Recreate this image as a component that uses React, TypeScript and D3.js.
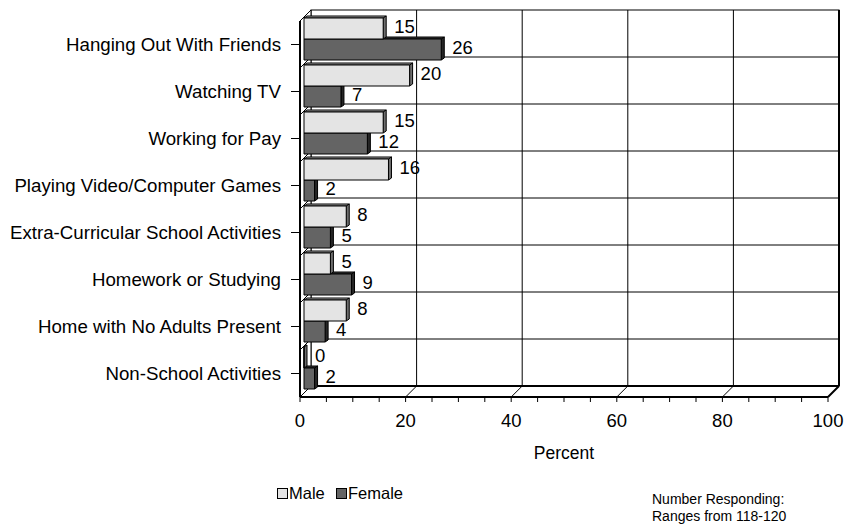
import React from "react";
import * as d3 from "d3";

const categories = [
  "Hanging Out With Friends",
  "Watching TV",
  "Working for Pay",
  "Playing Video/Computer Games",
  "Extra-Curricular School Activities",
  "Homework or Studying",
  "Home with No Adults Present",
  "Non-School Activities",
];
const maleValues = [15, 20, 15, 16, 8, 5, 8, 0];
const femaleValues = [26, 7, 12, 2, 5, 9, 4, 2];
const xTicks = [0, 20, 40, 60, 80, 100];
const seriesNames = ["Male", "Female"];
const axisTitle = "Percent";
const noteLines = ["Number Responding:", "Ranges from 118-120"];

const W = 846;
const H = 525;
const FONT = "'Liberation Sans', Arial, Helvetica, sans-serif";

// front plane of the 3-D box and its depth offset
const left = 300;
const right = 828;
const top = 21;
const bottom = 397;
const DEPTH = 11;

// bar placement inside the box
const BAR_Z = 4;
const BAR_DX = 3;
const BAR_DY = 2;

const MALE_FILL = "#e4e4e4";
const MALE_TOP = "#a8a8a8";
const MALE_SIDE = "#6e6e6e";
const FEMALE_FILL = "#646464";
const FEMALE_TOP = "#3c3c3c";
const FEMALE_SIDE = "#262626";

function Bar3D({ x, y, w, h, fill, topFill, sideFill }: any) {
  const front = `M${x},${y}h${w}v${h}h${-w}Z`;
  const topFace = `M${x},${y}L${x + BAR_DX},${y - BAR_DY}L${x + w + BAR_DX},${y - BAR_DY}L${x + w},${y}Z`;
  const side = `M${x + w},${y}L${x + w + BAR_DX},${y - BAR_DY}L${x + w + BAR_DX},${y + h - BAR_DY}L${x + w},${y + h}Z`;
  return (
    <g stroke="#000" strokeWidth={1} strokeLinejoin="round">
      <path d={topFace} fill={topFill} />
      <path d={side} fill={sideFill} />
      <path d={front} fill={fill} />
    </g>
  );
}

export default function App() {
  const x = d3.scaleLinear().domain([0, 100]).range([left, right]);
  const y = d3.scaleBand<string>().domain(categories).range([top, bottom]).padding(0);
  const bw = y.bandwidth();
  const barH = 21;

  const minorTicks = d3.range(0, 101, 5);
  const boundaries = d3.range(0, categories.length + 1).map((i) => top + i * bw);

  const rows = categories.map((c, i) => ({ c, m: maleValues[i], f: femaleValues[i] }));

  return (
    <svg
      width={W}
      height={H}
      style={{ position: "absolute", left: 0, top: 0, background: "#fff" }}
      fontFamily={FONT}
    >
      {/* back wall */}
      <rect x={left + DEPTH} y={top - DEPTH} width={right - left} height={bottom - top} fill="#fff" stroke="#000" strokeWidth={1} />
      {xTicks.slice(1, -1).map((t) => (
        <line key={`vg${t}`} x1={x(t) + DEPTH} x2={x(t) + DEPTH} y1={top - DEPTH} y2={bottom - DEPTH} stroke="#000" strokeWidth={1} />
      ))}
      {boundaries.slice(1, -1).map((b, i) => (
        <line key={`hg${i}`} x1={left + DEPTH} x2={right + DEPTH} y1={b - DEPTH} y2={b - DEPTH} stroke="#000" strokeWidth={1} />
      ))}

      {/* left wall */}
      <path
        d={`M${left},${top}L${left + DEPTH},${top - DEPTH}L${left + DEPTH},${bottom - DEPTH}L${left},${bottom}Z`}
        fill="#fff"
        stroke="#000"
        strokeWidth={1}
      />
      {boundaries.map((b, i) => (
        <line key={`ld${i}`} x1={left} y1={b} x2={left + DEPTH} y2={b - DEPTH} stroke="#000" strokeWidth={1} />
      ))}

      {/* floor */}
      <path
        d={`M${left},${bottom}L${left + DEPTH},${bottom - DEPTH}L${right + DEPTH},${bottom - DEPTH}L${right},${bottom}Z`}
        fill="#fff"
        stroke="#000"
        strokeWidth={1}
      />
      {xTicks.map((t) => (
        <line key={`fd${t}`} x1={x(t)} y1={bottom} x2={x(t) + DEPTH} y2={bottom - DEPTH} stroke="#000" strokeWidth={1} />
      ))}
      <line x1={left + DEPTH} x2={right + DEPTH} y1={bottom - DEPTH} y2={bottom - DEPTH} stroke="#000" strokeWidth={2} />
      <line x1={right + DEPTH} x2={right + DEPTH} y1={top - DEPTH} y2={bottom - DEPTH} stroke="#000" strokeWidth={2} />

      {/* bars */}
      {rows
        .slice()
        .reverse()
        .map((r) => {
          const y0 = (y(r.c) as number) - 3;
          const x0 = x(0) + BAR_Z;
          return (
            <g key={r.c}>
              <Bar3D x={x0} y={y0 + barH} w={x(r.f) - x(0)} h={barH} fill={FEMALE_FILL} topFill={FEMALE_TOP} sideFill={FEMALE_SIDE} />
              <Bar3D x={x0} y={y0} w={x(r.m) - x(0)} h={barH} fill={MALE_FILL} topFill={MALE_TOP} sideFill={MALE_SIDE} />
            </g>
          );
        })}

      {/* value labels */}
      {rows.map((r) => {
        const y0 = (y(r.c) as number) - 3;
        const lx = (v: number) => x(v) + BAR_Z + BAR_DX + 8;
        return (
          <g key={`lab${r.c}`} fontSize={18.5} fill="#000">
            <text x={lx(r.m)} y={y0 + barH / 2 - 2} dy="0.35em">{r.m}</text>
            <text x={lx(r.f)} y={y0 + barH * 1.5 - 2} dy="0.35em">{r.f}</text>
          </g>
        );
      })}

      {/* front axis lines */}
      <line x1={left} x2={left} y1={top} y2={bottom} stroke="#000" strokeWidth={2} />
      <line x1={left} x2={right} y1={bottom} y2={bottom} stroke="#000" strokeWidth={2} />
      <line x1={right} y1={bottom} x2={right + DEPTH} y2={bottom - DEPTH} stroke="#000" strokeWidth={2} />

      {/* category axis */}
      {categories.map((c) => {
        const cy = (y(c) as number) + bw / 2;
        return (
          <g key={`cat${c}`}>
            <line x1={left - 9} x2={left} y1={cy} y2={cy} stroke="#000" strokeWidth={1} />
            <text x={281} y={cy} dy="0.35em" textAnchor="end" fontSize={18.7}>{c}</text>
          </g>
        );
      })}

      {/* value axis */}
      {minorTicks.map((t) => (
        <line key={`mt${t}`} x1={x(t)} x2={x(t)} y1={bottom} y2={bottom + 5} stroke="#000" strokeWidth={1} />
      ))}
      {xTicks.map((t) => (
        <text key={`xt${t}`} x={x(t)} y={421} dy="0.35em" textAnchor="middle" fontSize={18.5}>{t}</text>
      ))}
      <text x={(left + right) / 2} y={453} dy="0.35em" textAnchor="middle" fontSize={17.5}>{axisTitle}</text>

      {/* legend */}
      <g fontSize={16.5}>
        <rect x={277.5} y={488.5} width={10} height={10} fill={MALE_FILL} stroke="#000" />
        <text x={289} y={493.5} dy="0.35em">{seriesNames[0]}</text>
        <rect x={336.5} y={488.5} width={10} height={10} fill={FEMALE_FILL} stroke="#000" />
        <text x={348} y={493.5} dy="0.35em">{seriesNames[1]}</text>
      </g>

      {/* note */}
      <g fontSize={14}>
        {noteLines.map((l, i) => (
          <text key={l} x={652} y={499 + i * 17} dy="0.35em">{l}</text>
        ))}
      </g>
    </svg>
  );
}
